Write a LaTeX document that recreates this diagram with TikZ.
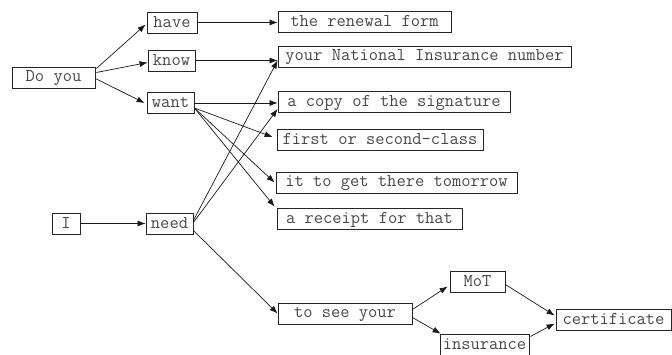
\documentclass[tikz,border=0pt]{standalone}
\usepackage{fontspec}
\usetikzlibrary{arrows.meta,calc}
\begin{document}
\begin{tikzpicture}[x=1pt,y=-1pt,
 box/.style={draw=black!85, line width=0.8pt,
   font=\ttfamily\fontsize{18}{20}\selectfont, text=black!72,
   inner sep=0pt, minimum height=21pt, anchor=center,
   execute at begin node={\rule[-4pt]{0pt}{17pt}}},
 arr/.style={-{Latex[length=8pt,width=6pt]}, line width=0.7pt, draw=black!90}]
\useasboundingbox (0,0) rectangle (672,354);
% nodes
\node[box, minimum width=83pt]  (doyou)   at (53.5,77.5)  {Do you};
\node[box, minimum width=50pt]  (have)    at (172,22.5)   {have};
\node[box, minimum width=47pt]  (know)    at (171.5,60.5) {know};
\node[box, minimum width=47pt]  (want)    at (170.5,103)  {want};
\node[box, minimum width=173pt] (renewal) at (364.5,22)   {the renewal form};
\node[box, minimum width=293pt] (ni)      at (424.5,56.5) {your National Insurance number};
\node[box, minimum width=232pt] (copy)    at (394,102)    {a copy of the signature};
\node[box, minimum width=206pt] (first)   at (380,140)    {first or second-class};
\node[box, minimum width=241pt] (tomorrow) at (396.5,182.5) {it to get there tomorrow};
\node[box, minimum width=185pt] (receipt) at (369.5,218.5) {a receipt for that};
\node[box, minimum width=28pt]  (I)       at (66,223.5)   {I};
\node[box, minimum width=47pt]  (need)    at (169.5,223.5) {need};
\node[box, minimum width=134pt] (seeyour) at (345,313.5)  {to see your\hspace{10pt}};
\node[box, minimum width=55pt]  (mot)     at (477.5,281.5) {MoT};
\node[box, minimum width=89pt]  (insurance) at (484.5,344.5) {insurance};
\node[box, minimum width=115pt] (certificate) at (613.5,319.5) {certificate};
% connectors
\draw[arr] ($(doyou.east)+(1,-9)$) -- ($(have.west)+(-1,2)$);
\draw[arr] ($(doyou.east)+(1,-5)$) -- ($(know.west)+(0,2)$);
\draw[arr] ($(doyou.east)+(0,1)$) -- ($(want.west)+(-2,0)$);
\draw[arr] (have.east) -- (renewal.west |- have.east);
\draw[arr] (know.east) -- (ni.west |- know.east);
\draw[arr] (want.east) -- (copy.west |- want.east);
\draw[arr] ($(want.east)+(0,5)$) -- ($(first.west)+(-4,-3)$);
\draw[arr] ($(want.east)+(0,5)$) -- ($(tomorrow.west)+(-1,0)$);
\draw[arr] ($(want.east)+(0,5)$) -- ($(receipt.north west)+(-2,-1)$);
\draw[arr] (I.east) -- (need.west);
\draw[arr] ($(need.east)+(0,-3)$) -- ($(ni.west)+(0,4)$);
\draw[arr] ($(need.east)+(0,-1)$) -- ($(copy.west)+(0,7)$);
\draw[arr] ($(need.east)+(0,7)$) -- (seeyour.west);
\draw[arr] ($(seeyour.east)+(0,-4)$) -- ($(mot.west)+(-2,5)$);
\draw[arr] ($(seeyour.east)+(0,4)$) -- ($(insurance.north west)+(1,0)$);
\draw[arr] ($(mot.east)+(0,3)$) -- ($(certificate.west)+(-1,-4)$);
\draw[arr] ($(insurance.east)+(1,-8)$) -- ($(certificate.west)+(-1,4)$);
\end{tikzpicture}
\end{document}
